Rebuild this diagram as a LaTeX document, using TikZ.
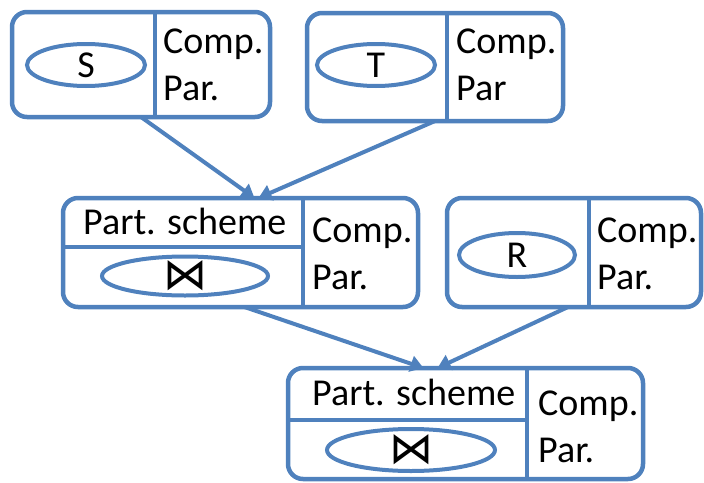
\documentclass[tikz,border=0pt]{standalone}
\usepackage{fontspec}
\setmainfont{Carlito}
\newfontfamily\symfont{DejaVu Sans}
\usetikzlibrary{arrows.meta, calc, positioning, shapes.geometric}
\definecolor{planblue}{HTML}{4F81BD}
\tikzset{
>={Triangle[length=13pt,width=16pt]}, % filled heads on the edges
every node/.style={inner sep=0pt},
opbox/.style={draw=planblue, line width=4.5pt, rounded corners=15pt, outer sep=0pt},
divider/.style={draw=planblue, line width=4pt},
opnode/.style={ellipse, draw=planblue, line width=4pt, font=\fontsize{38}{46}\selectfont},
joinsym/.style={font=\symfont\fontsize{44}{50}\selectfont},
cell/.style={anchor=base west, font=\fontsize{38}{46}\selectfont},
edge/.style={->, draw=planblue, line width=4pt},
}

\begin{document}
\begin{tikzpicture}[x=1pt, y=-1pt]
  \useasboundingbox (0,0) rectangle (704,482);
  % leaf operators
  \node[opbox, minimum width=258pt, minimum height=105pt] (S) at (141,64.5) {};
  \node[opbox, minimum width=256pt, minimum height=108pt] (T) at (435,67) {};
  \node[opbox, minimum width=254pt, minimum height=109pt] (R) at (574,252.5) {};
  % join operators
  \node[opbox, minimum width=355pt, minimum height=109pt] (join1) at (240.5,252.5) {};
  \node[opbox, minimum width=355pt, minimum height=111pt] (join2) at (465.5,423.5) {};

  \draw[divider] ([xshift=143pt]S.north west) -- ([xshift=143pt]S.south west);
  \draw[divider] ([xshift=140pt]T.north west) -- ([xshift=140pt]T.south west);
  \draw[divider] ([xshift=142pt]R.north west) -- ([xshift=142pt]R.south west);
  \draw[divider] ([xshift=240pt]join1.north west) -- ([xshift=240pt]join1.south west);
  \draw[divider] ([yshift=-49pt]join1.north west) -- ([xshift=240pt,yshift=-49pt]join1.north west);
  \draw[divider] ([xshift=239pt]join2.north west) -- ([xshift=239pt]join2.south west);
  \draw[divider] ([yshift=-52pt]join2.north west) -- ([xshift=239pt,yshift=-52pt]join2.north west);

  \node[opnode, minimum width=118pt, minimum height=42pt] (Sop) at (86,65) {S};
  \node[opnode, minimum width=118pt, minimum height=42pt] (Top) at (376,65) {T};
  \node[opnode, minimum width=116pt, minimum height=44pt] (Rop) at (517,255) {R};
  \node[opnode, minimum width=166pt, minimum height=39pt] (join1op) at (185,276) {};
  \node[opnode, minimum width=168pt, minimum height=42pt] (join2op) at (411,450) {};
  \node[joinsym] at (join1op) {⋈};
  \node[joinsym] at (join2op) {⋈};

  \node[cell] (Scomp) at (163,53) {Comp.};
  \node[cell] (Spar) at (163,100) {Par.};
  \node[cell] (Tcomp) at (456,53) {Comp.};
  \node[cell] (Tpar) at (456,100) {Par};
  \node[cell] (Rcomp) at (597,242) {Comp.};
  \node[cell] (Rpar) at (597,289) {Par.};
  \node[cell] (join1part) at (83,234) {Part. scheme};
  \node[cell] (join1comp) at (312,242) {Comp.};
  \node[cell] (join1par) at (312,289) {Par.};
  \node[cell] (join2part) at (312,405) {Part. scheme};
  \node[cell] (join2comp) at (538,415) {Comp.};
  \node[cell] (join2par) at (538,462) {Par.};

  \draw[edge] (S.south) -- ([xshift=14pt]join1.north);
  \draw[edge] (T.south) -- ([xshift=18pt]join1.north);
  \draw[edge] ([xshift=4pt]join1.south) -- ([xshift=-42pt]join2.north);
  \draw[edge] ([xshift=-6pt]R.south) -- ([xshift=-28pt]join2.north);
\end{tikzpicture}
\end{document}
